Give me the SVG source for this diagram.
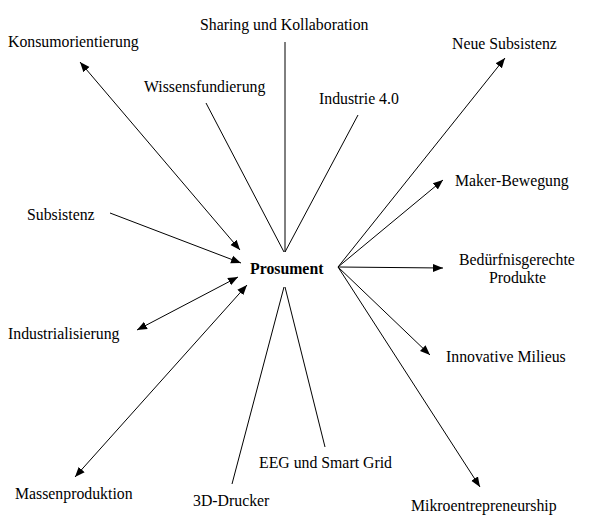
<svg xmlns="http://www.w3.org/2000/svg" width="600" height="527" viewBox="0 0 600 527">
<defs>
<marker id="a" viewBox="0 0 10 10" refX="10" refY="5" markerWidth="10" markerHeight="10" markerUnits="userSpaceOnUse" orient="auto-start-reverse"><path d="M0,1 L10,5 L0,9 z" fill="#000"/></marker>
<style>
text{font-family:"Liberation Serif",serif;font-size:15.8px;fill:#000}
.l{stroke:#000;stroke-width:1;fill:none}
.e{marker-end:url(#a)}
.b{marker-start:url(#a);marker-end:url(#a)}
</style>
</defs>
<rect width="600" height="527" fill="#fff"/>
<g id="connectors">
<line class="l b" x1="80" y1="62" x2="240" y2="250"/>
<line class="l" x1="206" y1="103" x2="284" y2="252"/>
<line class="l" x1="285" y1="42" x2="285" y2="252"/>
<line class="l" x1="358" y1="115" x2="285" y2="252"/>
<line class="l e" x1="338" y1="267" x2="505" y2="58"/>
<line class="l e" x1="338" y1="267" x2="443" y2="180"/>
<line class="l e" x1="338" y1="267" x2="443" y2="268"/>
<line class="l e" x1="338" y1="267" x2="430" y2="355"/>
<line class="l e" x1="338" y1="267" x2="480" y2="487"/>
<line class="l e" x1="110" y1="213" x2="241" y2="263"/>
<line class="l b" x1="137" y1="330" x2="238" y2="277"/>
<line class="l b" x1="75" y1="477" x2="247" y2="285"/>
<line class="l" x1="232" y1="484" x2="284" y2="287"/>
<line class="l" x1="325" y1="447" x2="285" y2="287"/>
</g>
<g id="prosument"><text x="250" y="274" font-weight="bold">Prosument</text></g>
<g id="konsum"><text x="8" y="47">Konsumorientierung</text></g>
<g id="sharing"><text x="200" y="30">Sharing und Kollaboration</text></g>
<g id="wissen"><text x="144" y="92">Wissensfundierung</text></g>
<g id="industrie"><text x="319" y="104">Industrie 4.0</text></g>
<g id="neue"><text x="452" y="49">Neue Subsistenz</text></g>
<g id="maker"><text x="455" y="186">Maker-Bewegung</text></g>
<g id="bedarf"><text x="459" y="265">Bedürfnisgerechte</text><text x="489" y="283">Produkte</text></g>
<g id="milieus"><text x="446" y="362">Innovative Milieus</text></g>
<g id="mikro"><text x="411" y="511">Mikroentrepreneurship</text></g>
<g id="eeg"><text x="259" y="468">EEG und Smart Grid</text></g>
<g id="drucker"><text x="193" y="506">3D-Drucker</text></g>
<g id="masse"><text x="15" y="499">Massenproduktion</text></g>
<g id="indus"><text x="8" y="339">Industrialisierung</text></g>
<g id="subs"><text x="27" y="220">Subsistenz</text></g>
</svg>
